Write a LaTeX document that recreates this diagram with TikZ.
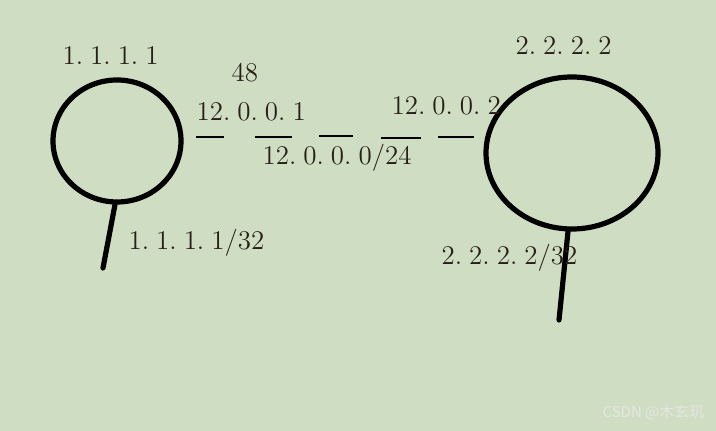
\documentclass[tikz,border=0pt]{standalone}
\usepackage{fontspec}
\newfontfamily\cjk{Noto Sans CJK SC}
\usetikzlibrary{shapes.geometric}
\definecolor{bgcol}{RGB}{207,222,195}
\definecolor{txtcol}{RGB}{40,32,24}
\definecolor{markcol}{RGB}{228,230,226}
\newcommand{\ipdot}{.\hspace{0.26em}}
\begin{document}
\begin{tikzpicture}[x=0.5pt,y=-0.5pt,semithick,
    router/.style={ellipse,draw,line width=2.6pt,inner sep=0pt},
    addr/.style={anchor=base west,inner sep=0pt,text=txtcol,font=\fontsize{13.5}{15}\selectfont},
    wire/.style={line width=2.6pt,line cap=round},
    link/.style={line width=0.75pt}]
      \fill [bgcol] (0,0) rectangle (716,431);
      \useasboundingbox (0,0) rectangle (716,431);
      % routers
      \node [router,minimum width=64pt,minimum height=61pt] (r1) at (117,141) {};
      \node [router,minimum width=86pt,minimum height=76pt] (r2) at (572,153) {};
      \coordinate (l1) at (103,268);
      \coordinate (l2) at (559,320);
      \draw [wire] (r1.south) ++(-2,0) -- (l1);
      \draw [wire] (r2.south) ++(-4,0) -- (l2);
      % link between them
      \foreach \a/\b/\y in {196/224/137,255/292/137,319/353/136,381/421/138,438/474/137}
        \draw [link] (\a,\y) -- (\b,\y);
      % labels
      \node [addr] (id1) at (62,65) {1\ipdot 1\ipdot 1\ipdot 1};
      \node [addr] (id2) at (515,55) {2\ipdot 2\ipdot 2\ipdot 2};
      \node [addr] (cost) at (231,82) {48};
      \node [addr] (if1) at (196,121) {12\ipdot 0\ipdot 0\ipdot 1};
      \node [addr] (if2) at (391,115) {12\ipdot 0\ipdot 0\ipdot 2};
      \node [addr] (net) at (262,165) {12\ipdot 0\ipdot 0\ipdot 0/24};
      \node [addr] (lo1) at (128,250) {1\ipdot 1\ipdot 1\ipdot 1/32};
      \node [addr] (lo2) at (441,265) {2\ipdot 2\ipdot 2\ipdot 2/32};
      \node [anchor=base east,inner sep=0pt,text=markcol,font=\cjk\fontsize{7.5}{9}\selectfont] (wm) at (705,418) {CSDN @木玄玑};
\end{tikzpicture}
\end{document}
